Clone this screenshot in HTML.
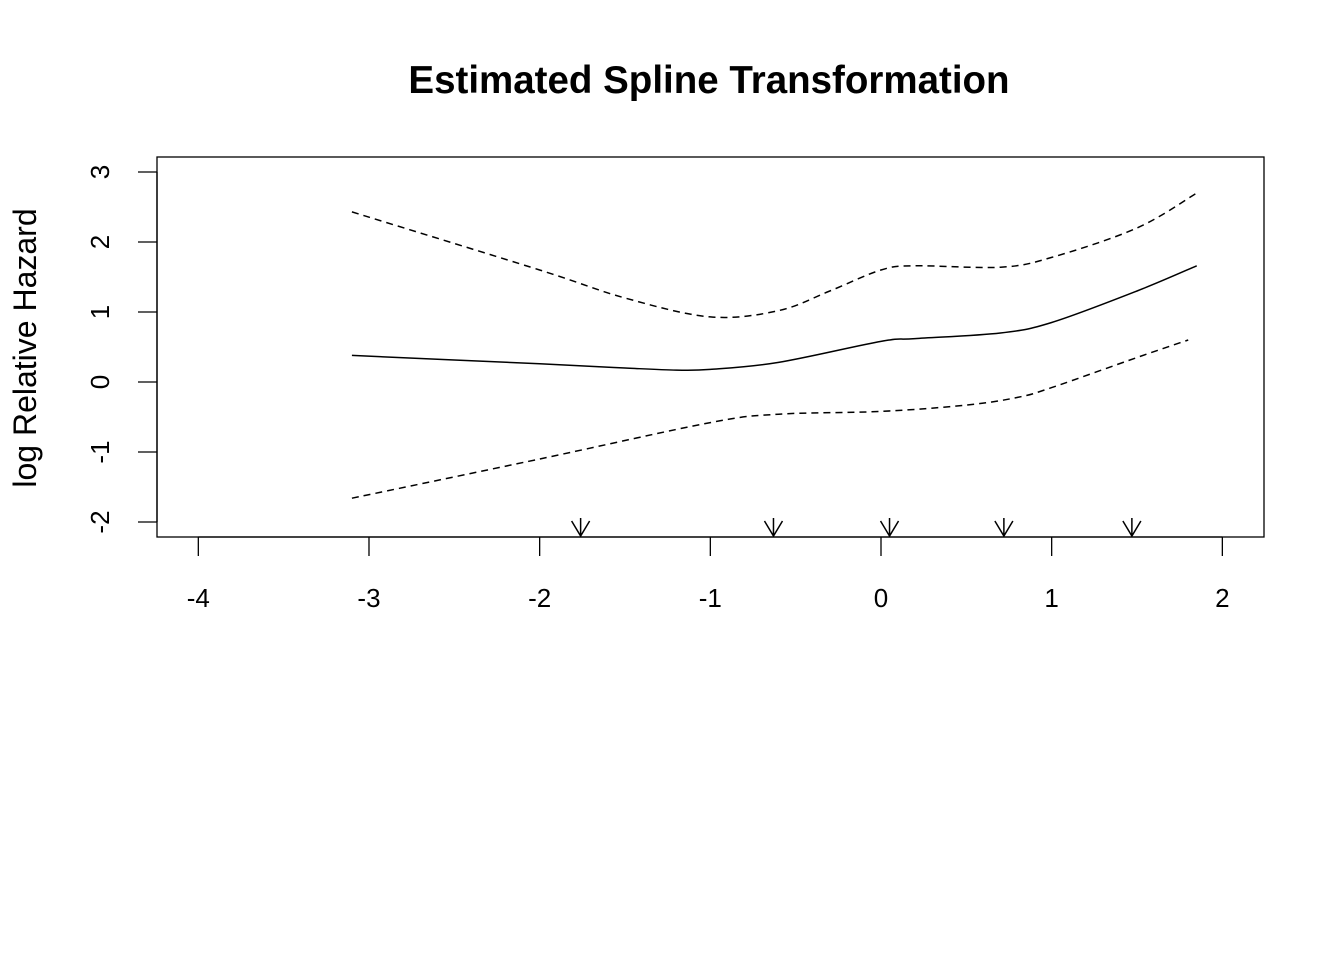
<!DOCTYPE html>
<html><head><meta charset="utf-8"><style>
html,body{margin:0;padding:0;background:#fff}
svg text{font-family:"Liberation Sans",Arial,sans-serif;fill:#000}
</style></head><body>
<svg width="1344" height="960" viewBox="0 0 1344 960" xmlns="http://www.w3.org/2000/svg">
<rect width="1344" height="960" fill="#fff"/>
<text x="709" y="93" text-anchor="middle" font-size="38.5" font-weight="bold">Estimated Spline Transformation</text>
<rect x="157" y="157" width="1107" height="380" fill="none" stroke="#000" stroke-width="1.3"/>
<g id="axes"></g>
<g id="series"></g>
<text transform="translate(36,348) rotate(-90)" text-anchor="middle" font-size="32">log Relative Hazard</text>
</svg>
<script>
const xTicks=[-4,-3,-2,-1,0,1,2];
const yTicks=[-2,-1,0,1,2,3];
const fitX=[-3.1,-2,-1.5,-1.2,-1,-0.6,0,0.2,0.7,1,1.5,1.85];
const fitY=[0.38,0.26,0.2,0.17,0.18,0.28,0.58,0.62,0.7,0.85,1.3,1.66];
const upX=[-3.1,-2,-1.5,-1,-0.6,-0.3,0,0.2,0.7,1,1.5,1.85];
const upY=[2.43,1.6,1.2,0.93,1.02,1.3,1.6,1.66,1.64,1.78,2.2,2.7];
const loX=[-3.1,-2,-1,-0.6,0,0.5,0.8,1,1.5,1.8];
const loY=[-1.66,-1.1,-0.58,-0.46,-0.42,-0.33,-0.22,-0.08,0.35,0.6];
const knots=[-1.76,-0.63,0.05,0.72,1.47];
const sx=v=>881+v*170.67, sy=v=>382-v*70;
const NS="http://www.w3.org/2000/svg";
const ax=document.getElementById('axes'), se=document.getElementById('series');
function mk(t,a,p){const e=document.createElementNS(NS,t);for(const k in a)e.setAttribute(k,a[k]);p.appendChild(e);return e;}
mk('line',{x1:sx(-4),x2:sx(2),y1:537,y2:537,stroke:'#000','stroke-width':1.3},ax);
xTicks.forEach(v=>{
 const l=mk('line',{x1:sx(v),x2:sx(v),y1:537,y2:556,stroke:'#000','stroke-width':1.3},ax);
 
 
 const t=mk('text',{x:sx(v),y:607,'text-anchor':'middle','font-size':26},ax);t.textContent=v;
 
 
});
mk('line',{x1:157,x2:157,y1:sy(-2),y2:sy(3),stroke:'#000','stroke-width':1.3},ax);
yTicks.forEach(v=>{
 const l=mk('line',{x1:138,x2:157,y1:sy(v),y2:sy(v),stroke:'#000','stroke-width':1.3},ax);
 
 
 const t=mk('text',{transform:`translate(109,${sy(v)}) rotate(-90)`,'text-anchor':'middle','font-size':26},ax);t.textContent=v;
 
 
});
function path(xs,ys){
 const p=xs.map((x,i)=>[sx(x),sy(ys[i])]);
 let d=`M${p[0][0]},${p[0][1]}`;
 for(let i=0;i<p.length-1;i++){
  const p0=p[Math.max(i-1,0)],p1=p[i],p2=p[i+1],p3=p[Math.min(i+2,p.length-1)];
  d+=` C${p1[0]+(p2[0]-p0[0])/6},${p1[1]+(p2[1]-p0[1])/6} ${p2[0]-(p3[0]-p1[0])/6},${p2[1]-(p3[1]-p1[1])/6} ${p2[0]},${p2[1]}`;
 }
 return d;
}
const f=mk('path',{d:path(fitX,fitY),fill:'none',stroke:'#000','stroke-width':1.5},se);


const u=mk('path',{d:path(upX,upY),fill:'none',stroke:'#000','stroke-width':1.5,'stroke-dasharray':'7,5'},se);


const lo=mk('path',{d:path(loX,loY),fill:'none',stroke:'#000','stroke-width':1.5,'stroke-dasharray':'7,5'},se);


knots.forEach(k=>{
 const x=sx(k);
 const a=mk('path',{d:`M${x},518 L${x},536 M${x-9},521 L${x},536 L${x+9},521`,fill:'none',stroke:'#000','stroke-width':1.5},se);
 
 
});
</script>
</body></html>
